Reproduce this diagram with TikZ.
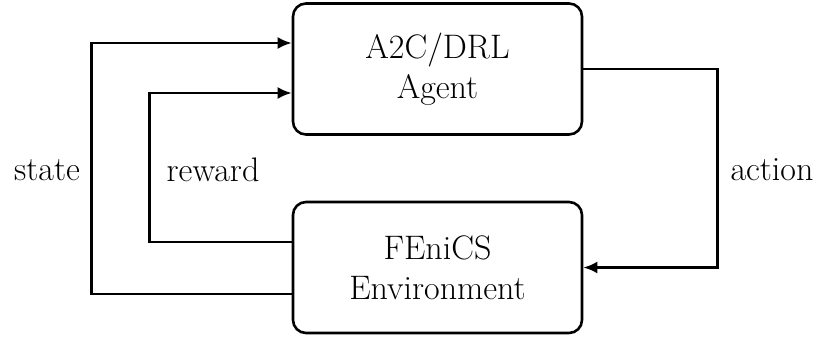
\documentclass[tikz,border=0pt]{standalone}
\usetikzlibrary{arrows.meta}
\begin{document}
\begin{tikzpicture}[x=1pt,y=1pt,
  box/.style={draw,line width=2.6pt,rounded corners=13pt,minimum width=289pt,minimum height=131pt,inner sep=0pt,align=center,font=\fontsize{34}{40}\selectfont},
  conn/.style={line width=2.6pt,-{Latex[length=14pt,width=12pt]}},
  lbl/.style={font=\fontsize{34}{40}\selectfont,inner sep=0pt}]
\useasboundingbox (0,0) rectangle (818,338);
\node[box] (agent) at (437.5,269) {A2C/DRL\\Agent};
\node[box] (env) at (437.5,70.5) {FEniCS\\Environment};
\draw[conn] ([yshift=-26.5pt]env.west) -- ++(-200,0) |- ([yshift=26pt]agent.west);
\draw[conn] ([yshift=25.5pt]env.west) -- ++(-142,0) |- ([yshift=-24pt]agent.west);
\draw[conn] (agent.east) -- ++(134,0) |- (env.east);
\node[lbl] (state) at (47,168) {state};
\node[lbl] (reward) at (213,168) {reward};
\node[lbl] (action) at (772,168) {action};
\end{tikzpicture}
\end{document}
